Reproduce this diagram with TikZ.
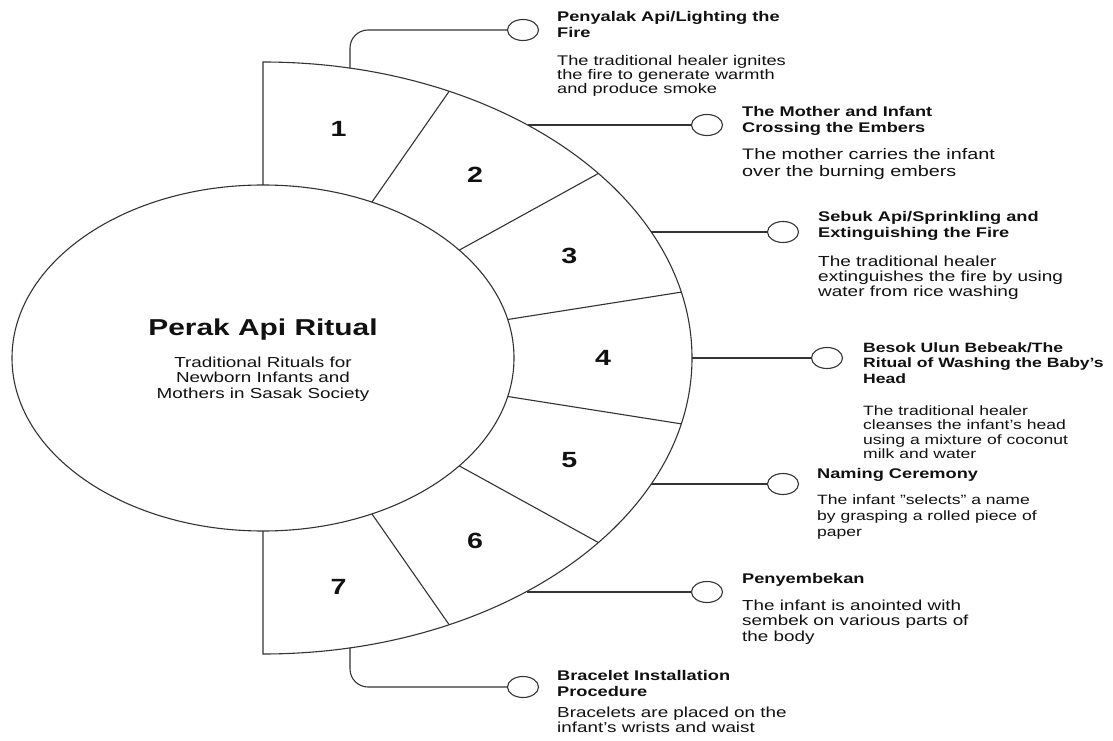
\documentclass[tikz,border=0pt]{standalone}
\usepackage{fontspec}
\setmainfont[FakeStretch=1.3]{Liberation Sans}
\usetikzlibrary{shapes.geometric}
\definecolor{ln}{HTML}{333333}
\definecolor{tx}{HTML}{111111}
\begin{document}
\begin{tikzpicture}[x=1pt,y=1pt,
  line/.style={draw=ln, line width=1.1pt},
  dot/.style={ellipse, draw=ln, line width=1.1pt, minimum width=31pt, minimum height=21pt, inner sep=0pt, fill=white},
  num/.style={font=\fontsize{22}{24}\selectfont\bfseries, text=tx, inner sep=0pt},
  ttl/.style={anchor=base west, align=left, inner sep=0pt, text=tx, font=\fontsize{14}{16}\selectfont\bfseries},
  bdy/.style={anchor=base west, align=left, inner sep=0pt, text=tx, font=\fontsize{14.5}{15.5}\selectfont},
]
\useasboundingbox (0,0) rectangle (1113,740);
\fill[white] (0,0) rectangle (1113,740);

% half annulus
\draw[line] (263,555) -- (263,678) arc[start angle=90, end angle=-90, x radius=429, y radius=296] -- (263,209);
\node[ellipse, draw=ln, line width=1.1pt, minimum width=502pt, minimum height=346pt, inner sep=0pt] (hub) at (263,382) {};
\foreach \k in {1,...,6}{
  \pgfmathsetmacro\a{90-\k*180/7}
  \draw[line] ({263+251*cos(\a)},{382+173*sin(\a)}) -- ({263+429*cos(\a)},{382+296*sin(\a)});
}
\foreach \i in {1,...,7}{
  \pgfmathsetmacro\a{90-(\i-0.5)*180/7}
  \node[num] (n\i) at ({263+340*cos(\a)},{382+234.5*sin(\a)}) {\i};
}

% centre text (base anchor = baseline of last line)
\node[anchor=base, inner sep=0pt, text=tx, font=\fontsize{23}{26}\selectfont\bfseries] (title) at (263,404) {Perak Api Ritual};
\node[anchor=base, align=center, inner sep=0pt, text=tx, font=\fontsize{14.5}{15.5}\selectfont] (sub) at (263,342) {Traditional Rituals for\\Newborn Infants and\\Mothers in Sasak Society};

% markers
\node[dot] (c1) at (523,710) {};
\node[dot] (c2) at (707,615) {};
\node[dot] (c3) at (783,508) {};
\node[dot] (c4) at (827,382) {};
\node[dot] (c5) at (783,256) {};
\node[dot] (c6) at (707,148) {};
\node[dot] (c7) at (523,53) {};

\coordinate (o1) at (350,671.9);
\coordinate (o2) at (527.6,615);
\coordinate (o3) at (651.2,508);
\coordinate (o4) at (692,382);
\coordinate (o5) at (651.2,256);
\coordinate (o6) at (527,148);
\coordinate (o7) at (350,92.1);

\draw[line, rounded corners=18pt] (o1) |- (c1.west);
\draw[line] (o2) -- (c2.west);
\draw[line] (o3) -- (c3.west);
\draw[line] (o4) -- (c4.west);
\draw[line] (o5) -- (c5.west);
\draw[line] (o6) -- (c6.west);
\draw[line, rounded corners=18pt] (o7) |- (c7.west);

% texts (positions are baselines of the last line)
\node[ttl] (t1) at (557,702) {Penyalak Api/Lighting the\\Fire};
\node[bdy, font=\fontsize{14}{13.8}\selectfont] (b1) at (557,646.4) {The traditional healer ignites\\the fire to generate warmth\\and produce smoke};

\node[ttl] (t2) at (742,607) {The Mother and Infant\\Crossing the Embers};
\node[bdy, font=\fontsize{15.2}{17}\selectfont] (b2) at (742,563) {The mother carries the infant\\over the burning embers};

\node[ttl] (t3) at (818,502) {Sebuk Api/Sprinkling and\\Extinguishing the Fire};
\node[bdy, font=\fontsize{14.6}{15}\selectfont] (b3) at (818,443) {The traditional healer\\extinguishes the fire by using\\water from rice washing};

\node[ttl, font=\fontsize{13.5}{15.5}\selectfont\bfseries] (t4) at (863,357) {Besok Ulun Bebeak/The\\Ritual of Washing the Baby’s\\Head};
\node[bdy, font=\fontsize{13.5}{14.5}\selectfont] (b4) at (863,281.5) {The traditional healer\\cleanses the infant’s head\\using a mixture of coconut\\milk and water};

\node[ttl] (t5) at (817,262) {Naming Ceremony};
\node[bdy, font=\fontsize{13.5}{16}\selectfont] (b5) at (817,204) {The infant {\char34}selects{\char34} a name\\by grasping a rolled piece of\\paper};

\node[ttl] (t6) at (742,157) {Penyembekan};
\node[bdy] (b6) at (742,99) {The infant is anointed with\\sembek on various parts of\\the body};

\node[ttl] (t7) at (557,44) {Bracelet Installation\\Procedure};
\node[bdy, font=\fontsize{14.5}{15}\selectfont] (b7) at (557,8) {Bracelets are placed on the\\infant’s wrists and waist};
\end{tikzpicture}
\end{document}
